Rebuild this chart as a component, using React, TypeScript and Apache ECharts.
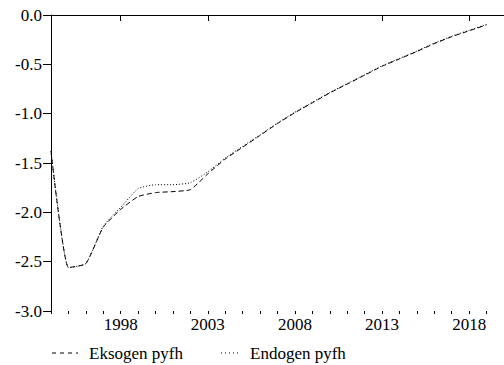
import React, { useEffect, useRef } from "react";
import * as echarts from "echarts";

const years: string[] = [];
for (let y = 1994; y <= 2020; y++) years.push(String(y));

const labeledYears = ["1998", "2003", "2008", "2013", "2018"];
const yTicks = [-3.0, -2.5, -2.0, -1.5, -1.0, -0.5, 0.0];

const eksogen = [
  -1.38, -2.56, -2.52, -2.15, -1.97, -1.84, -1.8, -1.79, -1.77, -1.61,
  -1.46, -1.34, -1.22, -1.1, -0.99, -0.89, -0.79, -0.7, -0.61, -0.52,
  -0.445, -0.37, -0.29, -0.22, -0.16, -0.1,
];
const endogen = [
  -1.38, -2.56, -2.52, -2.14, -1.95, -1.76, -1.72, -1.72, -1.7, -1.59,
  -1.45, -1.33, -1.215, -1.095, -0.985, -0.885, -0.785, -0.695, -0.605, -0.515,
  -0.44, -0.365, -0.285, -0.215, -0.155, -0.095,
];

const seriesNames = ["Eksogen pyfh", "Endogen pyfh"];
const FONT = "serif";

export default function App() {
  const ref = useRef<HTMLDivElement>(null);
  useEffect(() => {
    if (!ref.current) return;
    const chart = echarts.init(ref.current, undefined, { renderer: "svg" });
    const isMajor = (i: number, v: string) => labeledYears.includes(v);
    const axisLineStyle = { color: "#000", width: 1 };
    chart.setOption({
      animation: false,
      backgroundColor: "#fff",
      textStyle: { fontFamily: FONT },
      grid: { left: 51, top: 15, width: 456, height: 296 },
      xAxis: [
        {
          type: "category",
          data: years,
          boundaryGap: false,
          position: "bottom",
          axisLine: { show: true, lineStyle: axisLineStyle },
          axisTick: { show: true, length: 6, interval: isMajor, lineStyle: axisLineStyle },
          axisLabel: {
            interval: isMajor,
            color: "#000",
            fontFamily: FONT,
            fontSize: 17,
            margin: 5,
          },
          splitLine: { show: false },
        },
        {
          type: "category",
          data: years,
          boundaryGap: false,
          position: "bottom",
          axisLine: { show: false },
          axisTick: { show: true, length: 3, interval: 0, lineStyle: axisLineStyle },
          axisLabel: { show: false },
          splitLine: { show: false },
        },
        {
          type: "category",
          data: years,
          boundaryGap: false,
          position: "top",
          axisLine: { show: true, lineStyle: axisLineStyle },
          axisTick: { show: false },
          axisLabel: { show: false },
          splitLine: { show: false },
        },
      ],
      yAxis: {
        type: "value",
        min: yTicks[0],
        max: yTicks[yTicks.length - 1],
        interval: 0.5,
        axisLine: { show: true, lineStyle: axisLineStyle },
        axisTick: { show: true, length: 8, lineStyle: axisLineStyle },
        axisLabel: {
          color: "#000",
          fontFamily: FONT,
          fontSize: 17,
          margin: 9,
          formatter: (v: number) => v.toFixed(1),
        },
        splitLine: { show: false },
      },
      series: [
        {
          name: seriesNames[0],
          type: "line",
          data: eksogen,
          xAxisIndex: 0,
          symbol: "none",
          smooth: 0.15,
          lineStyle: { color: "#000", width: 1, type: [5, 3] },
          z: 3,
        },
        {
          name: seriesNames[1],
          type: "line",
          data: endogen,
          xAxisIndex: 0,
          symbol: "none",
          smooth: 0.15,
          lineStyle: { color: "#000", width: 1, type: [1, 2] },
          z: 2,
        },
      ],
      graphic: [
        {
          type: "line",
          shape: { x1: 52, y1: 353, x2: 78, y2: 353 },
          style: { stroke: "#000", lineWidth: 1, lineDash: [4, 4] },
        },
        {
          type: "text",
          x: 89,
          y: 353,
          style: {
            text: seriesNames[0],
            fontFamily: FONT,
            fontSize: 17,
            fill: "#000",
            verticalAlign: "middle",
          },
        },
        {
          type: "line",
          shape: { x1: 221, y1: 353, x2: 239, y2: 353 },
          style: { stroke: "#000", lineWidth: 1, lineDash: [1, 3] },
        },
        {
          type: "text",
          x: 250,
          y: 353,
          style: {
            text: seriesNames[1],
            fontFamily: FONT,
            fontSize: 17,
            fill: "#000",
            verticalAlign: "middle",
          },
        },
      ],
    });
    return () => chart.dispose();
  }, []);
  return (
    <div
      ref={ref}
      style={{ position: "fixed", left: 0, top: 0, width: 504, height: 365, overflow: "hidden" }}
    />
  );
}
